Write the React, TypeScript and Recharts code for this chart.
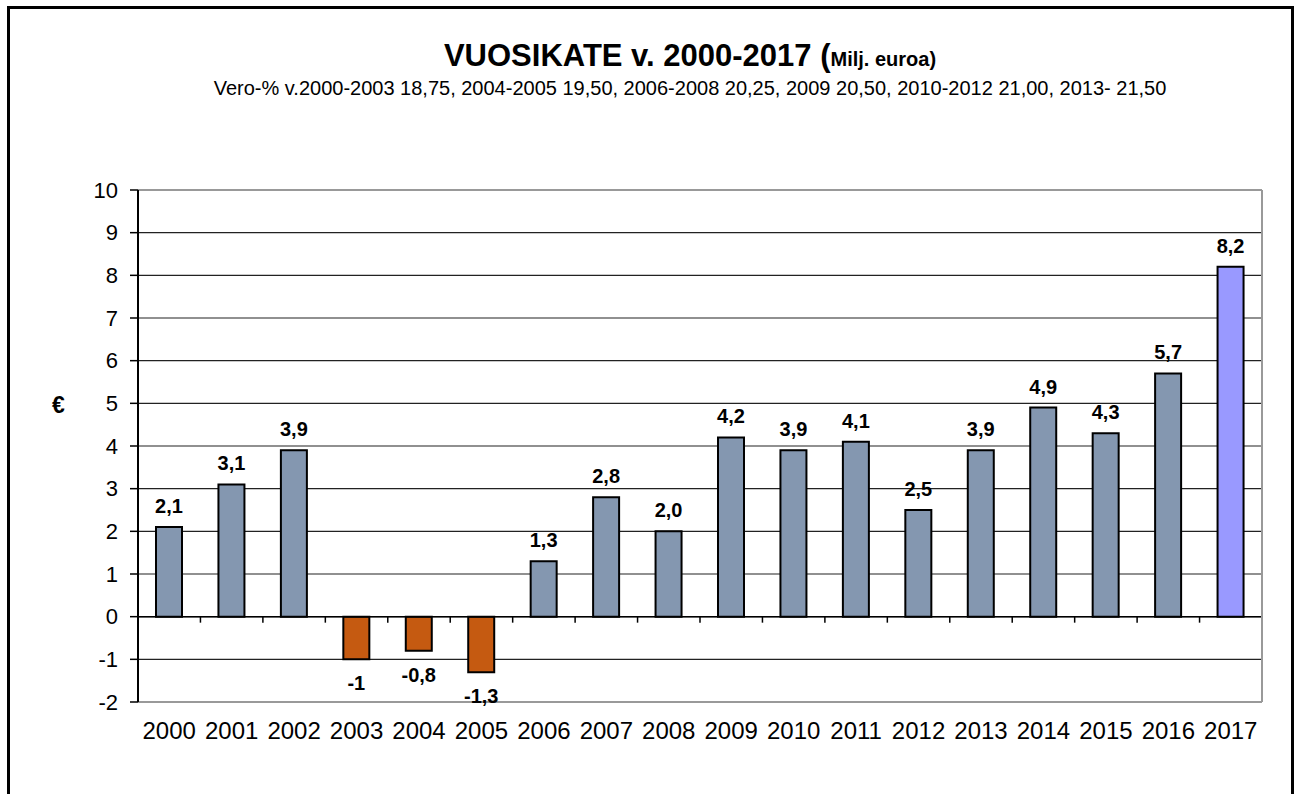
import React from "react";
import {
  BarChart,
  Bar,
  XAxis,
  YAxis,
  CartesianGrid,
  ReferenceLine,
  LabelList,
  Cell,
} from "recharts";

const years = [
  "2000", "2001", "2002", "2003", "2004", "2005", "2006", "2007", "2008",
  "2009", "2010", "2011", "2012", "2013", "2014", "2015", "2016", "2017",
];

const values = [
  2.1, 3.1, 3.9, -1, -0.8, -1.3, 1.3, 2.8, 2.0,
  4.2, 3.9, 4.1, 2.5, 3.9, 4.9, 4.3, 5.7, 8.2,
];

const valueLabels = [
  "2,1", "3,1", "3,9", "-1", "-0,8", "-1,3", "1,3", "2,8", "2,0",
  "4,2", "3,9", "4,1", "2,5", "3,9", "4,9", "4,3", "5,7", "8,2",
];

const yTicks = [-2, -1, 0, 1, 2, 3, 4, 5, 6, 7, 8, 9, 10];

const TITLE = "VUOSIKATE v. 2000-2017 (";
const TITLE_UNIT = "Milj. euroa)";
const SUBTITLE =
  "Vero-% v.2000-2003 18,75, 2004-2005 19,50, 2006-2008 20,25, 2009 20,50, 2010-2012 21,00, 2013- 21,50";

const POSITIVE = "#8497B0";
const NEGATIVE = "#C55A11";
const LATEST = "#9999FF";
const FONT = "'Liberation Sans', Arial, sans-serif";

const data = years.map((year, i) => ({ year, value: values[i] }));

function barColor(v: number, i: number) {
  if (v < 0) return NEGATIVE;
  if (i === values.length - 1) return LATEST;
  return POSITIVE;
}

// small tick marks hanging from the zero line, between categories
function ZeroTicks(props: any) {
  const vb = props.viewBox;
  if (!vb) return null;
  const step = vb.width / years.length;
  return (
    <g>
      {years.map((_, i) => (
        <line
          key={i}
          x1={vb.x + step * (i + 1)}
          x2={vb.x + step * (i + 1)}
          y1={vb.y}
          y2={vb.y + 6}
          stroke="#000"
          strokeWidth={1.5}
        />
      ))}
    </g>
  );
}

function ValueLabel(props: any) {
  const { x, y, width, height, index, value } = props;
  const top = Math.min(y, y + height);
  const bottom = Math.max(y, y + height);
  const cy = value < 0 ? bottom + 24 : top - 21;
  return (
    <text
      x={x + width / 2}
      y={cy}
      textAnchor="middle"
      dominantBaseline="central"
      fontFamily={FONT}
      fontWeight="bold"
      fontSize={20}
      fill="#000"
    >
      {valueLabels[index]}
    </text>
  );
}

export default function App() {
  return (
    <div
      style={{
        position: "fixed",
        left: 0,
        top: 0,
        width: 1295,
        height: 794,
        overflow: "hidden",
        background: "#fff",
        fontFamily: FONT,
      }}
    >
      <div
        style={{
          position: "absolute",
          left: 7,
          top: 6,
          width: 1281,
          height: 900,
          border: "3px solid #000",
        }}
      />
      <div
        style={{
          position: "absolute",
          left: 0,
          width: 1380,
          top: 40,
          textAlign: "center",
          lineHeight: "31px",
          fontWeight: "bold",
          whiteSpace: "nowrap",
        }}
      >
        <span style={{ fontSize: 31 }}>{TITLE}</span>
        <span style={{ fontSize: 20 }}>{TITLE_UNIT}</span>
      </div>
      <div
        style={{
          position: "absolute",
          left: 0,
          width: 1380,
          top: 77,
          textAlign: "center",
          fontSize: 20,
          lineHeight: "22px",
          whiteSpace: "nowrap",
        }}
      >
        {SUBTITLE}
      </div>
      <div
        style={{
          position: "absolute",
          left: 52,
          top: 392,
          fontSize: 23,
          fontWeight: "bold",
        }}
      >
        €
      </div>
      <div style={{ position: "absolute", left: 0, top: 0 }}>
        <BarChart
          width={1295}
          height={794}
          data={data}
          margin={{ top: 190, right: 32, bottom: 42, left: 78 }}
          barSize={26}
        >
          <CartesianGrid
            vertical={false}
            stroke="#222"
            strokeWidth={1.2}
          />
          <XAxis
            dataKey="year"
            height={50}
            tickLine={false}
            axisLine={{ stroke: "#999", strokeWidth: 2 }}
            tickMargin={14}
            tick={{ fill: "#000", fontSize: 24, fontFamily: FONT }}
            interval={0}
          />
          <YAxis
            width={60}
            domain={[-2, 10]}
            ticks={yTicks}
            interval={0}
            tickSize={8}
            tickMargin={12}
            axisLine={{ stroke: "#000", strokeWidth: 2 }}
            tickLine={{ stroke: "#000", strokeWidth: 1.5 }}
            tick={{ fill: "#000", fontSize: 22, fontFamily: FONT }}
          />
          <YAxis
            yAxisId="border"
            orientation="right"
            width={1}
            tick={false}
            tickLine={false}
            axisLine={{ stroke: "#999", strokeWidth: 2 }}
          />
          <ReferenceLine y={10} stroke="#999" strokeWidth={2} />
          <Bar
            dataKey="value"
            stroke="#000"
            strokeWidth={2}
            isAnimationActive={false}
          >
            {data.map((d, i) => (
              <Cell key={i} fill={barColor(d.value, i)} />
            ))}
            <LabelList dataKey="value" content={<ValueLabel />} />
          </Bar>
          <ReferenceLine
            y={0}
            stroke="#000"
            strokeWidth={1.5}
            label={<ZeroTicks />}
          />
        </BarChart>
      </div>
    </div>
  );
}
